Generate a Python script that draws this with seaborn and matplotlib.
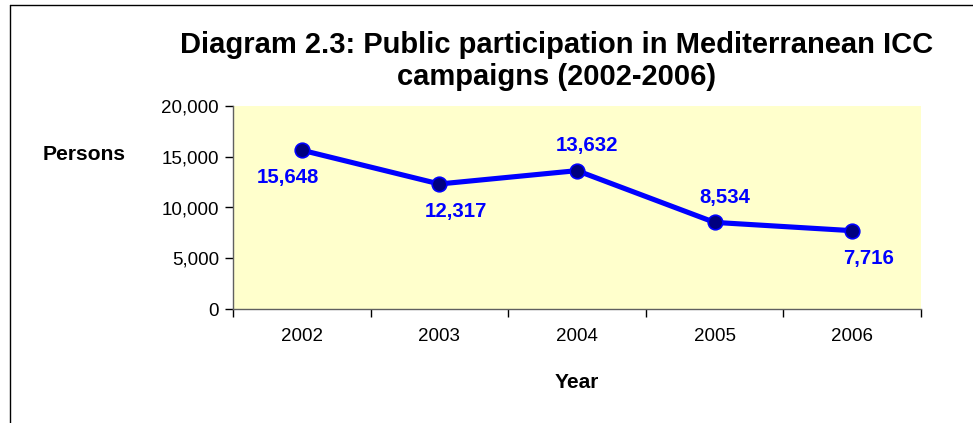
import matplotlib
matplotlib.use("Agg")
import matplotlib.pyplot as plt
import seaborn as sns
import pandas as pd
from matplotlib.lines import Line2D

years = ["2002", "2003", "2004", "2005", "2006"]
persons = [15648, 12317, 13632, 8534, 7716]
label_pos = ["below", "below", "above", "above", "below"]
y_ticks = [0, 5000, 10000, 15000, 20000]

df = pd.DataFrame({"year": years, "persons": persons})

sns.set_style("white")
plt.rcParams["font.family"] = ["Liberation Sans", "DejaVu Sans"]
plt.rcParams["text.color"] = "black"
plt.rcParams["xtick.color"] = "black"
plt.rcParams["ytick.color"] = "black"

fig = plt.figure(figsize=(9.73, 4.23), dpi=100)
ax = fig.add_axes([233 / 973, 1 - 309 / 423, 688 / 973, 203 / 423])
ax.set_facecolor("#FFFFCC")

sns.lineplot(data=df, x="year", y="persons", ax=ax, color="#0000FF", linewidth=3.7,
             marker="o", markersize=10.5, markerfacecolor="#000080",
             markeredgecolor="#0000FF", markeredgewidth=1.2, sort=False)

for i, (v, pos) in enumerate(zip(persons, label_pos)):
    dy = -20 if pos == "below" else 18
    dx = -10 if i == 0 else 12
    if i in (2, 3):
        dx = 7
    ax.annotate(f"{v:,}", (i, v), xytext=(dx, dy), textcoords="offset points",
                ha="center", va="center", color="#0000FF", fontsize=14.7,
                fontweight="bold")

ax.set_xlim(-0.5, 4.5)
ax.set_ylim(0, 20000)
ax.set_yticks(y_ticks)
ax.set_yticklabels([f"{t:,}" for t in y_ticks], fontsize=13.5)
ax.set_xticks([i - 0.5 for i in range(len(years) + 1)])
ax.set_xticklabels([])
ax.set_xticks(range(len(years)), minor=True)
ax.set_xticklabels(years, minor=True, fontsize=13.5)
ax.tick_params(axis="x", which="major", length=6, width=1, color="black", direction="out", bottom=True)
ax.tick_params(axis="x", which="minor", length=0, pad=14)
ax.tick_params(axis="y", length=6, width=1, color="black", direction="out", left=True, pad=4)
ax.set_xlabel("")
ax.set_ylabel("")
for s in ["top", "right"]:
    ax.spines[s].set_visible(False)
for s in ["left", "bottom"]:
    ax.spines[s].set_color("#606060")
    ax.spines[s].set_linewidth(1)

fig.text(557 / 973, 1 - 45 / 423, "Diagram 2.3: Public participation in Mediterranean ICC",
         ha="center", va="center", fontsize=21, fontweight="bold")
fig.text(557 / 973, 1 - 77 / 423, "campaigns (2002-2006)",
         ha="center", va="center", fontsize=21, fontweight="bold")
fig.text(84 / 973, 1 - 154 / 423, "Persons", ha="center", va="center",
         fontsize=15.2, fontweight="bold")
fig.text(577 / 973, 1 - 382 / 423, "Year", ha="center", va="center",
         fontsize=15, fontweight="bold")

# outer chart frame (only top and left edges visible)
fig.add_artist(Line2D([10 / 973, 10 / 973], [0, 1 - 5 / 423], color="black", linewidth=1))
fig.add_artist(Line2D([10 / 973, 1], [1 - 5 / 423, 1 - 5 / 423], color="black", linewidth=1))

fig.savefig("out.png", dpi=100, facecolor="white")
